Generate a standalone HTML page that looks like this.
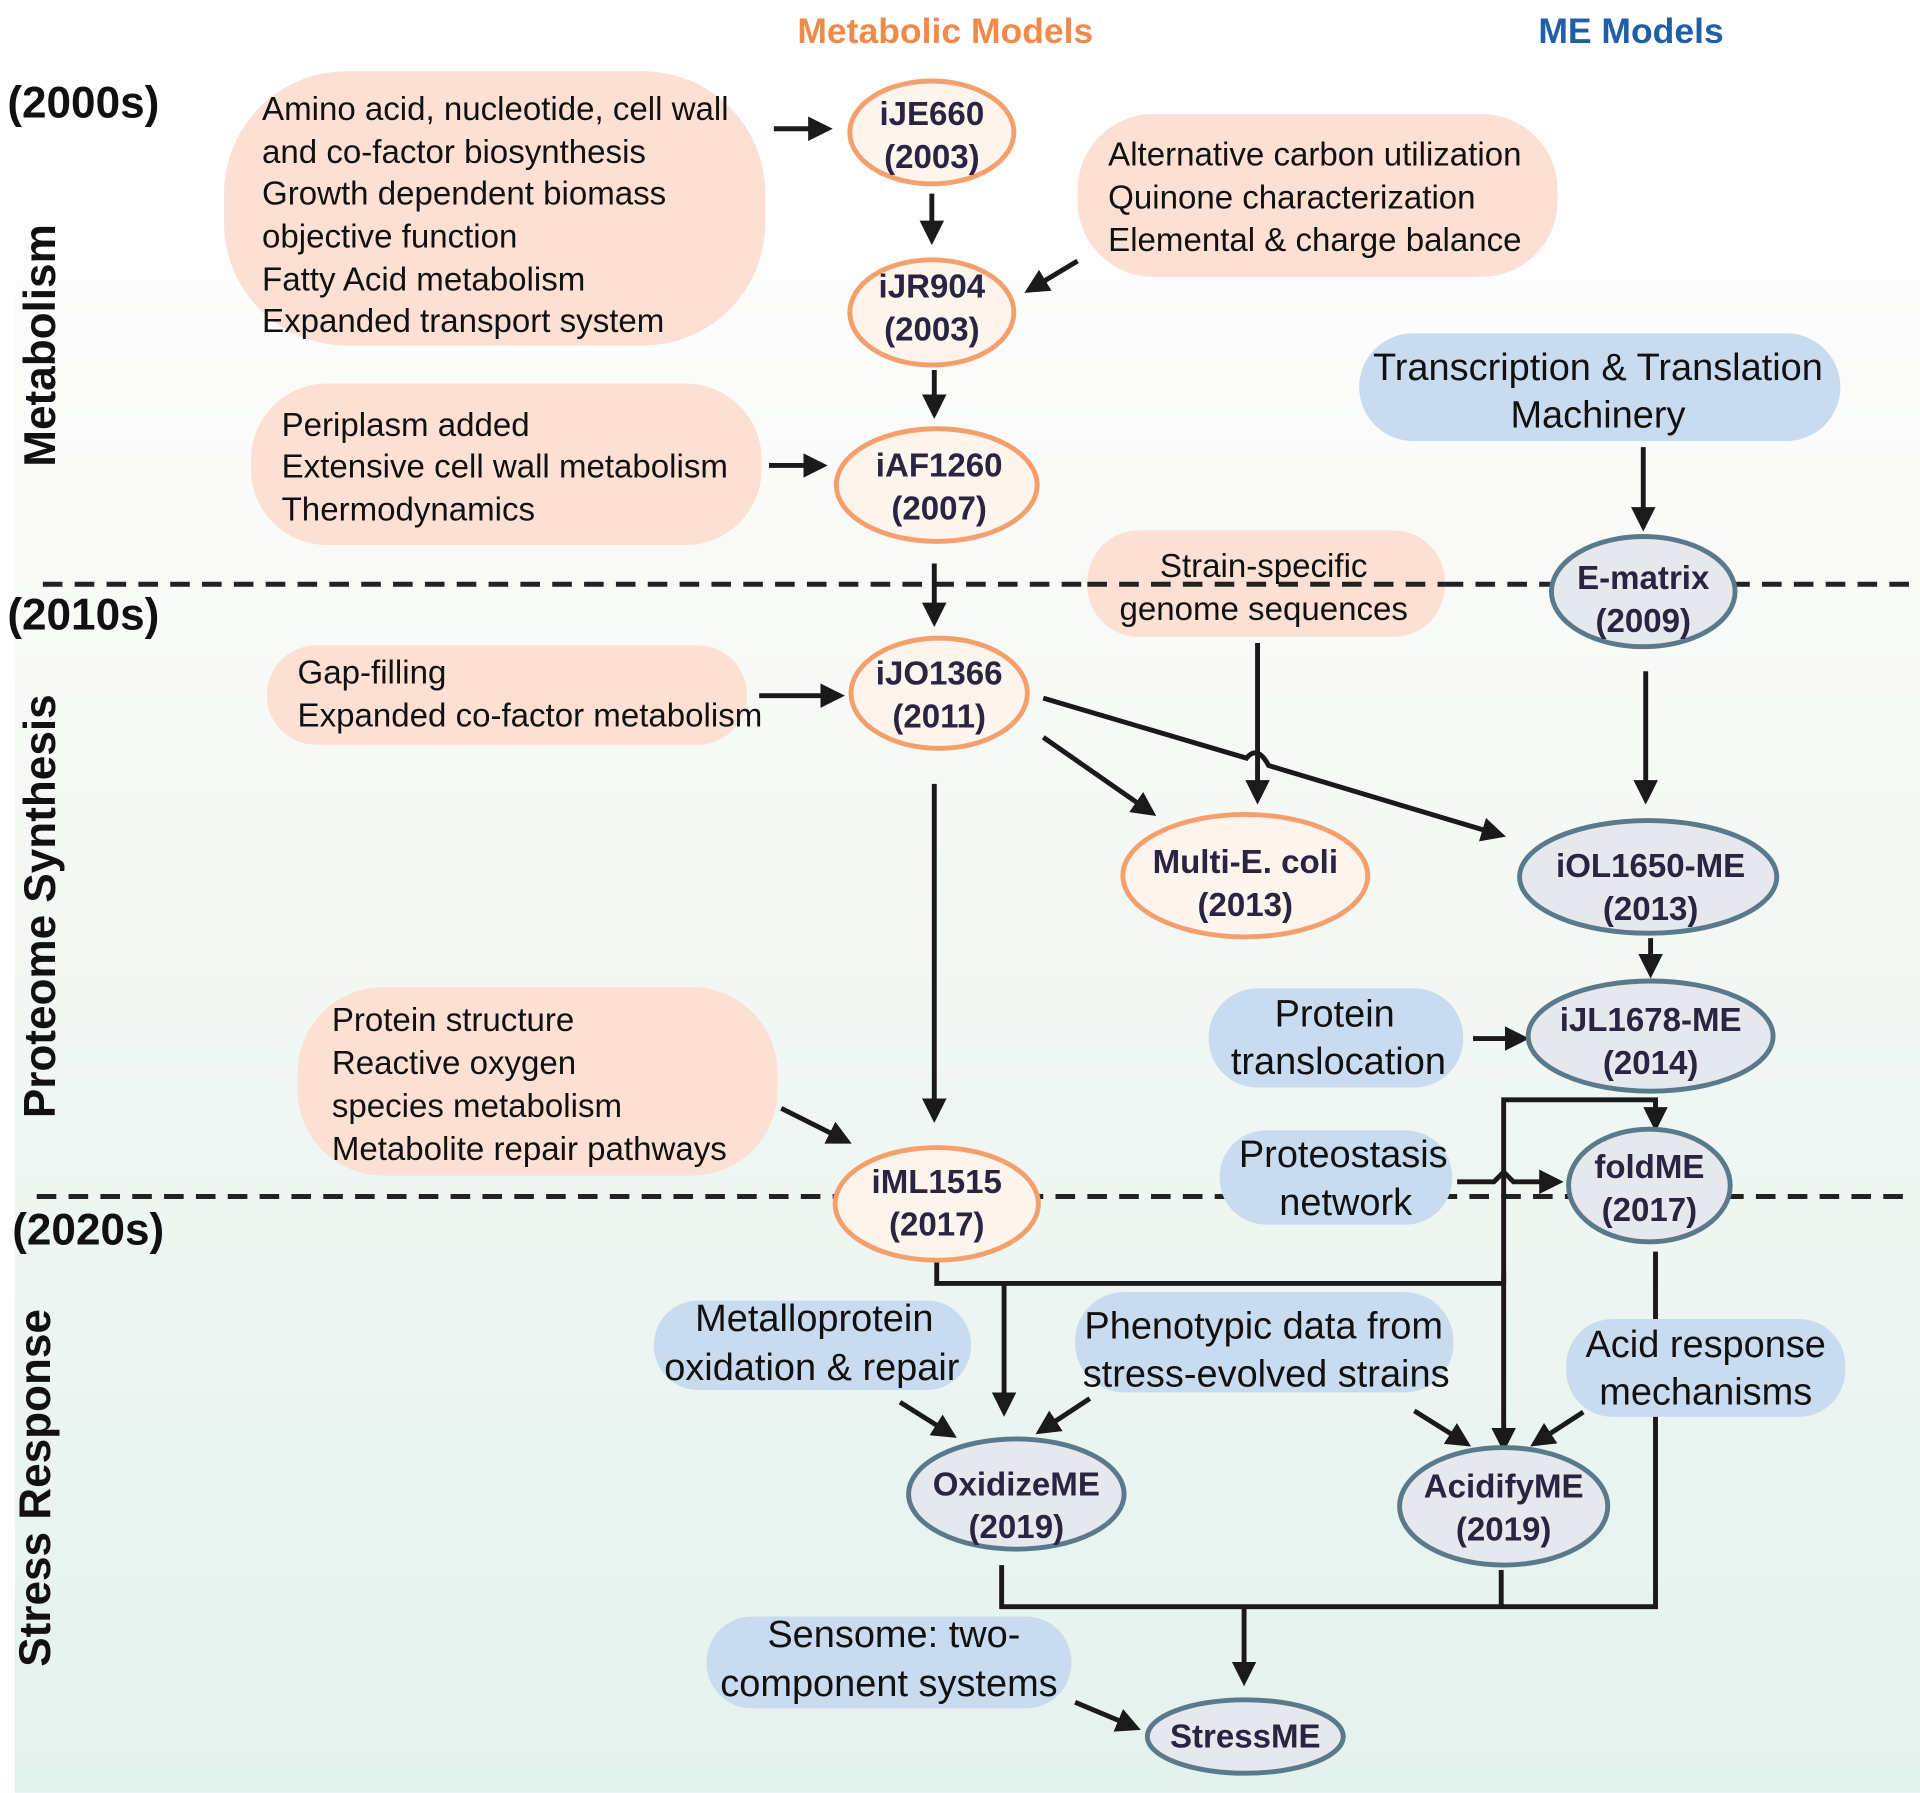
<!DOCTYPE html>
<html><head><meta charset="utf-8"><style>
html,body{margin:0;padding:0;background:#fff;}
svg{display:block;}
.t{font-family:"Liberation Sans",sans-serif;font-size:27px;fill:#111;}
.n{font-family:"Liberation Sans",sans-serif;font-size:27px;font-weight:bold;fill:#2a2440;text-anchor:middle;}
.b{font-family:"Liberation Sans",sans-serif;font-size:31px;fill:#111;text-anchor:middle;}
.ln{stroke:#1a1a1a;stroke-width:4;fill:none;}
.oe{fill:#fdf4ee;stroke:#f4a06c;stroke-width:4;}
.be{fill:#e6e8ee;stroke:#5a7a8c;stroke-width:4;}
.pk{fill:#fbe0d3;}
.bl{fill:#c9dcef;}
</style></head><body>
<svg width="1920" height="1793" viewBox="0 0 1568 1464" xmlns="http://www.w3.org/2000/svg">
<defs>
<linearGradient id="bg" x1="0" y1="0" x2="0" y2="1">
<stop offset="0" stop-color="#ffffff"/><stop offset="0.4" stop-color="#f7f9f6"/><stop offset="1" stop-color="#e4f2ee"/>
</linearGradient>
<marker id="a" viewBox="0 0 10 10" refX="8" refY="5" markerWidth="5" markerHeight="5" orient="auto"><path d="M0,0 L10,5 L0,10 z" fill="#1a1a1a"/></marker>
</defs>
<rect x="12" y="0" width="1556" height="1464" fill="url(#bg)"/>
<rect x="0" y="0" width="12" height="1464" fill="#fff"/>

<text x="772" y="35" font-family="Liberation Sans" font-size="29" font-weight="bold" fill="#f08a4b" text-anchor="middle">Metabolic Models</text>
<text x="1332" y="35" font-family="Liberation Sans" font-size="29" font-weight="bold" fill="#1f5fa8" text-anchor="middle">ME Models</text>
<g font-family="Liberation Sans" font-size="36" font-weight="bold" fill="#111">
<text x="6" y="96">(2000s)</text><text x="6" y="514">(2010s)</text><text x="10" y="1016">(2020s)</text>
<text transform="translate(45,282) rotate(-90)" text-anchor="middle">Metabolism</text>
<text transform="translate(45,740) rotate(-90)" text-anchor="middle">Proteome Synthesis</text>
<text transform="translate(41,1215) rotate(-90)" text-anchor="middle">Stress Response</text>
</g>
<line x1="35" y1="477" x2="1562" y2="477" stroke="#222" stroke-width="4" stroke-dasharray="16,10"/>
<line x1="30" y1="977" x2="1562" y2="977" stroke="#222" stroke-width="4" stroke-dasharray="16,10"/>

<!-- connectors -->
<g class="ln">
<line x1="632" y1="105" x2="676" y2="105" marker-end="url(#a)"/>
<line x1="761" y1="158" x2="761" y2="196" marker-end="url(#a)"/>
<line x1="880" y1="213" x2="840" y2="237" marker-end="url(#a)"/>
<line x1="763" y1="302" x2="763" y2="338" marker-end="url(#a)"/>
<line x1="628" y1="380" x2="672" y2="380" marker-end="url(#a)"/>
<line x1="1342" y1="365" x2="1342" y2="430" marker-end="url(#a)"/>
<line x1="763" y1="460" x2="763" y2="508" marker-end="url(#a)"/>
<line x1="620" y1="568" x2="686" y2="568" marker-end="url(#a)"/>
<line x1="1027" y1="525" x2="1027" y2="653" marker-end="url(#a)"/>
<path d="M852,570 L1018,619 Q1027,608 1036,625 L1226,682" marker-end="url(#a)"/>
<line x1="852" y1="602" x2="941" y2="664" marker-end="url(#a)"/>
<line x1="1344" y1="548" x2="1344" y2="653" marker-end="url(#a)"/>
<line x1="1348" y1="766" x2="1348" y2="795" marker-end="url(#a)"/>
<line x1="1203" y1="848" x2="1245" y2="848" marker-end="url(#a)"/>
<line x1="763" y1="640" x2="763" y2="913" marker-end="url(#a)"/>
<line x1="638" y1="905" x2="692" y2="932" marker-end="url(#a)"/>
<path d="M1228,1048 L1228,898 L1352,898 L1352,920" marker-end="url(#a)"/>
<line x1="1228" y1="1040" x2="1228" y2="1182" marker-end="url(#a)"/>
<path d="M1190,965 L1220,965 L1228,957 L1236,965 L1273,965" marker-end="url(#a)"/>
<path d="M765,1028 L765,1048 L1228,1048"/>
<line x1="820" y1="1048" x2="820" y2="1153" marker-end="url(#a)"/>
<line x1="735" y1="1145" x2="778" y2="1172" marker-end="url(#a)"/>
<line x1="890" y1="1142" x2="849" y2="1169" marker-end="url(#a)"/>
<line x1="1155" y1="1152" x2="1198" y2="1179" marker-end="url(#a)"/>
<line x1="1293" y1="1153" x2="1253" y2="1179" marker-end="url(#a)"/>
<path d="M1352,1022 L1352,1312 L818,1312 L818,1278"/>
<line x1="1226" y1="1282" x2="1226" y2="1312"/>
<line x1="1016" y1="1312" x2="1016" y2="1373" marker-end="url(#a)"/>
<line x1="878" y1="1390" x2="928" y2="1411" marker-end="url(#a)"/>
</g>

<!-- pink boxes -->
<rect class="pk" x="183" y="58" width="442" height="224" rx="100"/>
<g class="t"><text x="214" y="98">Amino acid, nucleotide, cell wall</text><text x="214" y="133">and co-factor biosynthesis</text><text x="214" y="167">Growth dependent biomass</text><text x="214" y="202">objective function</text><text x="214" y="237">Fatty Acid metabolism</text><text x="214" y="271">Expanded transport system</text></g>
<rect class="pk" x="880" y="93" width="392" height="133" rx="62"/>
<g class="t"><text x="905" y="135">Alternative carbon utilization</text><text x="905" y="170">Quinone characterization</text><text x="905" y="205">Elemental &amp; charge balance</text></g>
<rect class="pk" x="205" y="313" width="417" height="132" rx="62"/>
<g class="t"><text x="230" y="356">Periplasm added</text><text x="230" y="390">Extensive cell wall metabolism</text><text x="230" y="425">Thermodynamics</text></g>
<rect class="pk" x="888" y="433" width="292" height="87" rx="42"/>
<line x1="888" y1="477" x2="1180" y2="477" stroke="#222" stroke-width="4" stroke-dasharray="16,10"/>
<g class="t" text-anchor="middle"><text x="1032" y="471">Strain-specific</text><text x="1032" y="506">genome sequences</text></g>
<rect class="pk" x="218" y="527" width="392" height="81" rx="40"/>
<g class="t"><text x="243" y="558">Gap-filling</text><text x="243" y="593">Expanded co-factor metabolism</text></g>
<rect class="pk" x="243" y="806" width="392" height="154" rx="70"/>
<g class="t"><text x="271" y="842">Protein structure</text><text x="271" y="877">Reactive oxygen</text><text x="271" y="912">species metabolism</text><text x="271" y="947">Metabolite repair pathways</text></g>

<!-- blue boxes -->
<rect class="bl" x="1110" y="272" width="393" height="88" rx="44"/>
<g class="b"><text x="1305" y="310">Transcription &amp; Translation</text><text x="1305" y="349">Machinery</text></g>
<rect class="bl" x="987" y="807" width="208" height="81" rx="40"/>
<g class="b"><text x="1090" y="838">Protein</text><text x="1093" y="877">translocation</text></g>
<rect class="bl" x="996" y="923" width="190" height="77" rx="38"/>
<g class="b"><text x="1097" y="953">Proteostasis</text><text x="1099" y="992">network</text></g>
<rect class="bl" x="534" y="1062" width="259" height="73" rx="36"/>
<g class="b"><text x="665" y="1087">Metalloprotein</text><text x="663" y="1127">oxidation &amp; repair</text></g>
<rect class="bl" x="878" y="1055" width="309" height="82" rx="40"/>
<g class="b"><text x="1032" y="1093">Phenotypic data from</text><text x="1034" y="1132">stress-evolved strains</text></g>
<rect class="bl" x="1279" y="1077" width="228" height="80" rx="38"/>
<g class="b"><text x="1393" y="1108">Acid response</text><text x="1393" y="1147">mechanisms</text></g>
<rect class="bl" x="577" y="1320" width="298" height="75" rx="37"/>
<g class="b"><text x="730" y="1345">Sensome: two-</text><text x="726" y="1385">component systems</text></g>

<!-- nodes -->
<ellipse class="oe" cx="761" cy="108" rx="67" ry="42"/>
<text class="n"><tspan x="761" y="102">iJE660</tspan><tspan x="761" y="137">(2003)</tspan></text>
<ellipse class="oe" cx="761" cy="255" rx="67" ry="43"/>
<text class="n"><tspan x="761" y="243">iJR904</tspan><tspan x="761" y="278">(2003)</tspan></text>
<ellipse class="oe" cx="765" cy="396" rx="82" ry="46"/>
<text class="n"><tspan x="767" y="389">iAF1260</tspan><tspan x="767" y="424">(2007)</tspan></text>
<ellipse class="be" cx="1342" cy="483" rx="75" ry="45"/>
<text class="n"><tspan x="1342" y="481">E-matrix</tspan><tspan x="1342" y="516">(2009)</tspan></text>
<ellipse class="oe" cx="767" cy="566" rx="72" ry="45"/>
<text class="n"><tspan x="767" y="559">iJO1366</tspan><tspan x="767" y="594">(2011)</tspan></text>
<ellipse class="oe" cx="1017" cy="715" rx="100" ry="50"/>
<text class="n"><tspan x="1017" y="713">Multi-E. coli</tspan><tspan x="1017" y="748">(2013)</tspan></text>
<ellipse class="be" cx="1346" cy="716" rx="105" ry="46"/>
<text class="n"><tspan x="1348" y="716">iOL1650-ME</tspan><tspan x="1348" y="751">(2013)</tspan></text>
<ellipse class="be" cx="1348" cy="846" rx="100" ry="45"/>
<text class="n"><tspan x="1348" y="842">iJL1678-ME</tspan><tspan x="1348" y="877">(2014)</tspan></text>
<ellipse class="oe" cx="765" cy="983" rx="83" ry="46"/>
<text class="n"><tspan x="765" y="974">iML1515</tspan><tspan x="765" y="1009">(2017)</tspan></text>
<ellipse class="be" cx="1347" cy="968" rx="66" ry="46"/>
<text class="n"><tspan x="1347" y="962">foldME</tspan><tspan x="1347" y="997">(2017)</tspan></text>
<ellipse class="be" cx="830" cy="1220" rx="88" ry="45"/>
<text class="n"><tspan x="830" y="1221">OxidizeME</tspan><tspan x="830" y="1256">(2019)</tspan></text>
<ellipse class="be" cx="1228" cy="1230" rx="85" ry="48"/>
<text class="n"><tspan x="1228" y="1223">AcidifyME</tspan><tspan x="1228" y="1258">(2019)</tspan></text>
<ellipse class="be" cx="1017" cy="1418" rx="80" ry="30"/>
<text class="n" x="1017" y="1427">StressME</text>
</svg>
</body></html>
